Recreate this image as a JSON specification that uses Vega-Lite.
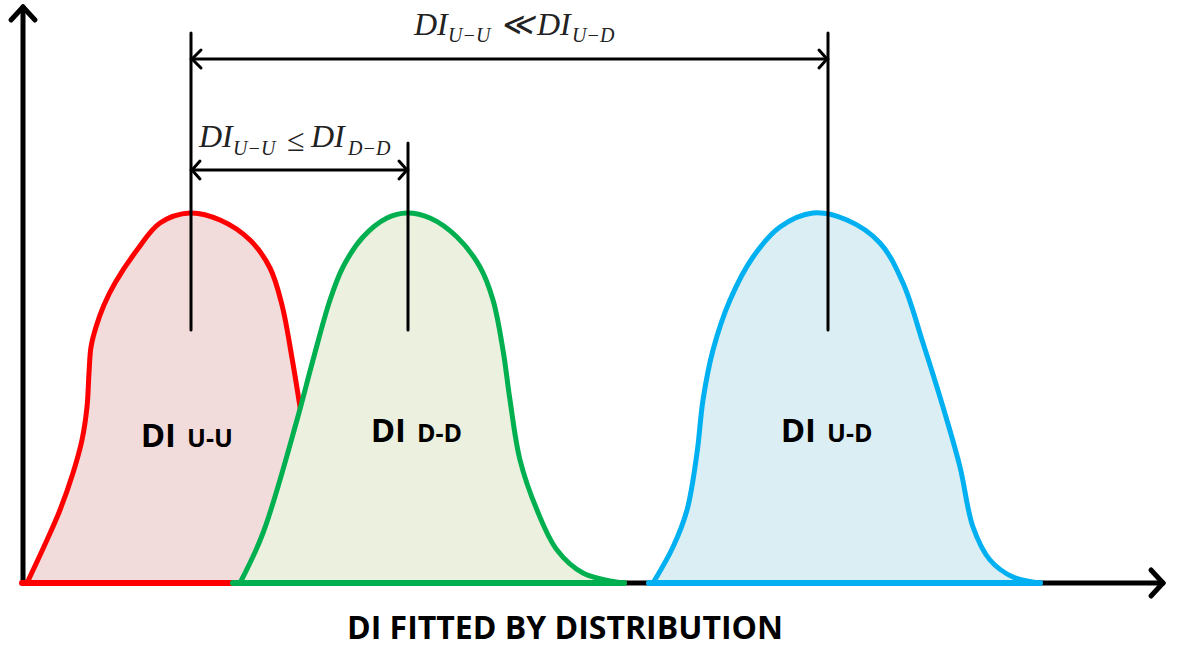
{
  "$schema": "https://vega.github.io/schema/vega-lite/v6.json",
  "width": 1189,
  "height": 648,
  "autosize": {"type": "fit", "contains": "padding"},
  "padding": 0,
  "background": "white",
  "config": {"view": {"stroke": null}},
  "datasets": {
    "curves": [
      {"series": "U-U", "x": 27, "h": 0}, {"series": "U-U", "x": 47, "h": 43}, {"series": "U-U", "x": 60, "h": 73},
      {"series": "U-U", "x": 73, "h": 110}, {"series": "U-U", "x": 82, "h": 143}, {"series": "U-U", "x": 87, "h": 176},
      {"series": "U-U", "x": 89, "h": 210}, {"series": "U-U", "x": 91, "h": 236}, {"series": "U-U", "x": 96, "h": 256},
      {"series": "U-U", "x": 104, "h": 278}, {"series": "U-U", "x": 115, "h": 300}, {"series": "U-U", "x": 137, "h": 333},
      {"series": "U-U", "x": 160, "h": 360}, {"series": "U-U", "x": 190, "h": 370}, {"series": "U-U", "x": 220, "h": 363},
      {"series": "U-U", "x": 250, "h": 343}, {"series": "U-U", "x": 270, "h": 315}, {"series": "U-U", "x": 282, "h": 278},
      {"series": "U-U", "x": 292, "h": 225}, {"series": "U-U", "x": 300, "h": 176}, {"series": "U-U", "x": 308, "h": 123},
      {"series": "U-U", "x": 315, "h": 63}, {"series": "U-U", "x": 322, "h": 0},
      {"series": "D-D", "x": 240, "h": 0}, {"series": "D-D", "x": 263, "h": 50}, {"series": "D-D", "x": 297, "h": 163},
      {"series": "D-D", "x": 313, "h": 223}, {"series": "D-D", "x": 330, "h": 283}, {"series": "D-D", "x": 343, "h": 316},
      {"series": "D-D", "x": 363, "h": 346}, {"series": "D-D", "x": 387, "h": 365}, {"series": "D-D", "x": 407, "h": 370},
      {"series": "D-D", "x": 430, "h": 365}, {"series": "D-D", "x": 457, "h": 346}, {"series": "D-D", "x": 480, "h": 316},
      {"series": "D-D", "x": 493, "h": 283}, {"series": "D-D", "x": 503, "h": 233}, {"series": "D-D", "x": 510, "h": 183},
      {"series": "D-D", "x": 520, "h": 123}, {"series": "D-D", "x": 537, "h": 73}, {"series": "D-D", "x": 557, "h": 33},
      {"series": "D-D", "x": 583, "h": 10}, {"series": "D-D", "x": 623, "h": 0},
      {"series": "U-D", "x": 653, "h": 0}, {"series": "U-D", "x": 673, "h": 36}, {"series": "U-D", "x": 687, "h": 73},
      {"series": "U-D", "x": 697, "h": 130}, {"series": "U-D", "x": 703, "h": 183}, {"series": "U-D", "x": 713, "h": 233},
      {"series": "U-D", "x": 730, "h": 283}, {"series": "U-D", "x": 753, "h": 326}, {"series": "U-D", "x": 780, "h": 356},
      {"series": "U-D", "x": 813, "h": 370}, {"series": "U-D", "x": 847, "h": 363}, {"series": "U-D", "x": 880, "h": 340},
      {"series": "U-D", "x": 903, "h": 300}, {"series": "U-D", "x": 923, "h": 240}, {"series": "U-D", "x": 943, "h": 176},
      {"series": "U-D", "x": 960, "h": 116}, {"series": "U-D", "x": 973, "h": 56}, {"series": "U-D", "x": 990, "h": 23},
      {"series": "U-D", "x": 1013, "h": 6}, {"series": "U-D", "x": 1040, "h": 0}
    ],
    "segments": [
      {"kind": "axis", "x": 23, "h": 0, "x2": 23, "h2": 576},
      {"kind": "axis", "x": 23, "h": 576, "x2": 11, "h2": 563},
      {"kind": "axis", "x": 23, "h": 576, "x2": 35, "h2": 563},
      {"kind": "axis", "x": 23, "h": 0, "x2": 1163, "h2": 0},
      {"kind": "axis", "x": 1163, "h": 0, "x2": 1151, "h2": 13},
      {"kind": "axis", "x": 1163, "h": 0, "x2": 1151, "h2": -13},
      {"kind": "base", "series": "U-U", "x": 22, "h": 0, "x2": 236, "h2": 0},
      {"kind": "base", "series": "D-D", "x": 233, "h": 0, "x2": 624, "h2": 0},
      {"kind": "base", "series": "U-D", "x": 649, "h": 0, "x2": 1040, "h2": 0},
      {"kind": "annot", "x": 191, "h": 550, "x2": 191, "h2": 253},
      {"kind": "annot", "x": 408, "h": 440, "x2": 408, "h2": 253},
      {"kind": "annot", "x": 828, "h": 550, "x2": 828, "h2": 253},
      {"kind": "annot", "x": 191, "h": 524, "x2": 828, "h2": 524},
      {"kind": "annot", "x": 192, "h": 524, "x2": 201, "h2": 533},
      {"kind": "annot", "x": 192, "h": 524, "x2": 201, "h2": 515},
      {"kind": "annot", "x": 827, "h": 524, "x2": 819, "h2": 533},
      {"kind": "annot", "x": 827, "h": 524, "x2": 819, "h2": 515},
      {"kind": "annot", "x": 191, "h": 413, "x2": 408, "h2": 413},
      {"kind": "annot", "x": 192, "h": 413, "x2": 200, "h2": 422},
      {"kind": "annot", "x": 192, "h": 413, "x2": 200, "h2": 404},
      {"kind": "annot", "x": 407, "h": 413, "x2": 399, "h2": 422},
      {"kind": "annot", "x": 407, "h": 413, "x2": 399, "h2": 404}
    ],
    "texts": [
      {"kind": "mathBig", "text": "DI", "x": 414, "h": 548},
      {"kind": "mathBig", "text": "≪", "x": 500, "h": 548},
      {"kind": "mathBig", "text": "DI", "x": 537, "h": 548},
      {"kind": "mathBig", "text": "DI", "x": 199, "h": 436},
      {"kind": "mathBig", "text": "≤", "x": 287, "h": 432},
      {"kind": "mathBig", "text": "DI", "x": 311, "h": 436},
      {"kind": "mathSmall", "text": "U−U", "x": 448, "h": 541},
      {"kind": "mathSmall", "text": "U−D", "x": 572, "h": 541},
      {"kind": "mathSmall", "text": "U−U", "x": 233, "h": 428},
      {"kind": "mathSmall", "text": "D−D", "x": 348, "h": 428},
      {"kind": "labelBig", "text": "DI", "x": 176, "h": 136},
      {"kind": "labelBig", "text": "DI", "x": 406, "h": 141},
      {"kind": "labelBig", "text": "DI", "x": 816, "h": 141},
      {"kind": "labelSmall", "text": "U-U", "x": 187, "h": 136},
      {"kind": "labelSmall", "text": "D-D", "x": 417, "h": 141},
      {"kind": "labelSmall", "text": "U-D", "x": 827, "h": 141},
      {"kind": "title", "text": "DI FITTED BY DISTRIBUTION", "x": 565, "h": -46}
    ]
  },
  "encoding": {
    "x": {"field": "x", "type": "quantitative", "scale": {"domain": [0, 1189], "nice": false, "zero": false}, "axis": null},
    "y": {"field": "h", "type": "quantitative", "scale": {"domain": [-65, 583], "nice": false, "zero": false}, "axis": null}
  },
  "layer": [
    {
      "data": {"name": "segments"},
      "transform": [{"filter": "datum.kind === 'axis'"}],
      "mark": {"type": "rule", "color": "#000000", "strokeWidth": 5, "strokeCap": "round"},
      "encoding": {"x2": {"field": "x2"}, "y2": {"field": "h2"}}
    },
    {
      "data": {"name": "curves"},
      "transform": [{"filter": "datum.series === 'U-U'"}],
      "mark": {"type": "area", "color": "#F2DCDB", "interpolate": "catmull-rom"},
      "encoding": {"y2": {"datum": 0}}
    },
    {
      "data": {"name": "curves"},
      "transform": [{"filter": "datum.series === 'U-U'"}],
      "mark": {"type": "line", "color": "#FF0000", "strokeWidth": 5, "interpolate": "catmull-rom", "strokeCap": "round", "strokeJoin": "round"},
      "encoding": {}
    },
    {
      "data": {"name": "segments"},
      "transform": [{"filter": "datum.kind === 'base' && datum.series === 'U-U'"}],
      "mark": {"type": "rule", "color": "#FF0000", "strokeWidth": 6, "strokeCap": "round"},
      "encoding": {"x2": {"field": "x2"}, "y2": {"field": "h2"}}
    },
    {
      "data": {"name": "curves"},
      "transform": [{"filter": "datum.series === 'D-D'"}],
      "mark": {"type": "area", "color": "#EBF1DE", "interpolate": "catmull-rom"},
      "encoding": {"y2": {"datum": 0}}
    },
    {
      "data": {"name": "curves"},
      "transform": [{"filter": "datum.series === 'D-D'"}],
      "mark": {"type": "line", "color": "#00B050", "strokeWidth": 5, "interpolate": "catmull-rom", "strokeCap": "round", "strokeJoin": "round"},
      "encoding": {}
    },
    {
      "data": {"name": "segments"},
      "transform": [{"filter": "datum.kind === 'base' && datum.series === 'D-D'"}],
      "mark": {"type": "rule", "color": "#00B050", "strokeWidth": 6, "strokeCap": "round"},
      "encoding": {"x2": {"field": "x2"}, "y2": {"field": "h2"}}
    },
    {
      "data": {"name": "curves"},
      "transform": [{"filter": "datum.series === 'U-D'"}],
      "mark": {"type": "area", "color": "#DAEEF3", "interpolate": "catmull-rom"},
      "encoding": {"y2": {"datum": 0}}
    },
    {
      "data": {"name": "curves"},
      "transform": [{"filter": "datum.series === 'U-D'"}],
      "mark": {"type": "line", "color": "#00B0F0", "strokeWidth": 5, "interpolate": "catmull-rom", "strokeCap": "round", "strokeJoin": "round"},
      "encoding": {}
    },
    {
      "data": {"name": "segments"},
      "transform": [{"filter": "datum.kind === 'base' && datum.series === 'U-D'"}],
      "mark": {"type": "rule", "color": "#00B0F0", "strokeWidth": 6, "strokeCap": "round"},
      "encoding": {"x2": {"field": "x2"}, "y2": {"field": "h2"}}
    },
    {
      "data": {"name": "segments"},
      "transform": [{"filter": "datum.kind === 'annot'"}],
      "mark": {"type": "rule", "color": "#000000", "strokeWidth": 3, "strokeCap": "round"},
      "encoding": {"x2": {"field": "x2"}, "y2": {"field": "h2"}}
    },
    {
      "data": {"name": "texts"},
      "transform": [{"filter": "datum.kind === 'mathBig'"}],
      "mark": {"type": "text", "align": "left", "baseline": "alphabetic", "font": "Liberation Serif", "fontStyle": "italic", "fontSize": 32, "color": "#222222"},
      "encoding": {"text": {"field": "text"}}
    },
    {
      "data": {"name": "texts"},
      "transform": [{"filter": "datum.kind === 'mathSmall'"}],
      "mark": {"type": "text", "align": "left", "baseline": "alphabetic", "font": "Liberation Serif", "fontStyle": "italic", "fontSize": 20, "color": "#222222"},
      "encoding": {"text": {"field": "text"}}
    },
    {
      "data": {"name": "texts"},
      "transform": [{"filter": "datum.kind === 'labelBig'"}],
      "mark": {"type": "text", "align": "right", "baseline": "alphabetic", "font": "Open Sans", "fontWeight": "bold", "fontSize": 33, "color": "#000000"},
      "encoding": {"text": {"field": "text"}}
    },
    {
      "data": {"name": "texts"},
      "transform": [{"filter": "datum.kind === 'labelSmall'"}],
      "mark": {"type": "text", "align": "left", "baseline": "alphabetic", "font": "Open Sans", "fontWeight": "bold", "fontSize": 25, "color": "#000000"},
      "encoding": {"text": {"field": "text"}}
    },
    {
      "data": {"name": "texts"},
      "transform": [{"filter": "datum.kind === 'title'"}],
      "mark": {"type": "text", "align": "center", "baseline": "middle", "font": "Open Sans", "fontWeight": "bold", "fontSize": 32, "color": "#000000"},
      "encoding": {"text": {"field": "text"}}
    }
  ]
}
